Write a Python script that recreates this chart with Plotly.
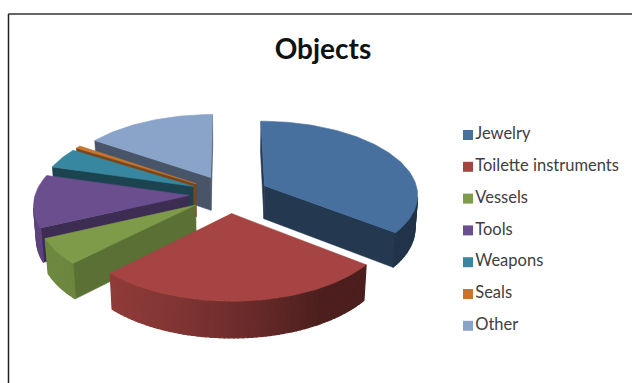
import math
import plotly.graph_objects as go

title = "Objects"
categories = ["Jewelry", "Toilette instruments", "Vessels", "Tools", "Weapons", "Seals", "Other"]
values = [35.5, 27.0, 5.6, 11.4, 4.4, 0.6, 15.5]
top_colors = ["#47709f", "#a54442", "#7d9b48", "#6b4e8e", "#36879f", "#c8742e", "#8aa4c9"]
cut_shades = [0.50, 0.50, 0.72, 0.58, 0.50, 0.60, 0.52]

# Projection of the tilted pie
CX, CY = 229, 194
F, D = 1230, 8.0
ELEV = math.radians(28.5)
HEIGHT = 0.25
PULL = 0.26
STEP = 1.5


def project(x, y, z):
    depth = D + y * math.cos(ELEV) - z * math.sin(ELEV)
    s = F / depth
    return CX + x * s, CY - (y * math.sin(ELEV) + z * math.cos(ELEV)) * s


def shade(hex_color, k):
    r, g, b = (int(hex_color[i:i + 2], 16) for i in (1, 3, 5))
    return f"rgb({r * k:.0f},{g * k:.0f},{b * k:.0f})"


def poly(fig, pts, color, width=0.6):
    xs = [p[0] for p in pts] + [pts[0][0]]
    ys = [p[1] for p in pts] + [pts[0][1]]
    fig.add_trace(go.Scatter(x=xs, y=ys, mode="lines", fill="toself", fillcolor=color,
                             line=dict(color=color, width=width), hoverinfo="skip", showlegend=False))


def facing(pts):
    # Negative when the quad faces the viewer, in y-down screen space
    a = 0
    for i in range(len(pts)):
        x0, y0 = pts[i]
        x1, y1 = pts[(i + 1) % len(pts)]
        a += x0 * y1 - x1 * y0
    return a


fig = go.Figure()
total = sum(values)
spans = []
angle = 0
for v in values:
    spans.append((angle, angle + v / total * 360))
    angle += v / total * 360

slices = []
for i, (a0, a1) in enumerate(spans):
    mid = math.radians((a0 + a1) / 2)
    slices.append((math.cos(mid), i, a0, a1, mid))

# Far slices are painted first
for _, i, a0, a1, mid in sorted(slices, reverse=True):
    ox, oy = PULL * math.sin(mid), PULL * math.cos(mid)
    col = top_colors[i]
    n = max(2, int((a1 - a0) / STEP))
    angs = [a0 + (a1 - a0) * k / n for k in range(n + 1)]
    rim = [(ox + math.sin(math.radians(a)), oy + math.cos(math.radians(a))) for a in angs]
    apex = (ox, oy)

    # Cut walls
    for p, q in ((apex, rim[0]), (rim[-1], apex)):
        wall = [project(p[0], p[1], 0), project(q[0], q[1], 0),
                project(q[0], q[1], -HEIGHT), project(p[0], p[1], -HEIGHT)]
        if facing(wall) < 0:
            poly(fig, wall, shade(col, cut_shades[i]))

    # Outer wall, in narrow strips for the shading
    for k in range(n):
        p, q = rim[k], rim[k + 1]
        wall = [project(p[0], p[1], 0), project(q[0], q[1], 0),
                project(q[0], q[1], -HEIGHT), project(p[0], p[1], -HEIGHT)]
        if facing(wall) < 0:
            am = math.radians((angs[k] + angs[k + 1]) / 2 - 240)
            poly(fig, wall, shade(col, 0.46 + 0.42 * max(0.0, math.cos(am))), width=1.2)

    # Top face
    poly(fig, [project(apex[0], apex[1], 0)] + [project(p[0], p[1], 0) for p in rim], col)

# Key at the right
key_x = 468
key_top = 135
key_gap = 31.8
for i, name in enumerate(categories):
    fig.add_trace(go.Scatter(x=[key_x], y=[key_top + i * key_gap], mode="markers+text", name=name,
                             text=[name], textposition="middle right",
                             textfont=dict(family="Lato", size=16.5, color="#404040"),
                             marker=dict(symbol="square", size=10, color=top_colors[i]),
                             showlegend=False, hovertemplate="%{text}<extra></extra>"))

fig.update_layout(
    width=632, height=383, autosize=False,
    margin=dict(l=0, r=0, t=0, b=0),
    paper_bgcolor="white", plot_bgcolor="white",
    showlegend=False,
    title=dict(text=f"<b>{title}</b>", x=323 / 632, y=1 - 49 / 383, xanchor="center", yanchor="middle",
               font=dict(family="Lato", size=28, color="#111111")),
    xaxis=dict(range=[0, 632], visible=False, fixedrange=True),
    yaxis=dict(range=[383, 0], visible=False, fixedrange=True),
    shapes=[
        dict(type="line", xref="paper", yref="paper", x0=8.5 / 632, x1=1, y0=1 - 14 / 383, y1=1 - 14 / 383,
             line=dict(color="#333333", width=1.5)),
        dict(type="line", xref="paper", yref="paper", x0=8.5 / 632, x1=8.5 / 632, y0=0, y1=1 - 14 / 383,
             line=dict(color="#222222", width=1.5)),
    ],
)
fig.write_html("out.html", config=dict(displayModeBar=False), post_script="document.body.style.margin='0';")
